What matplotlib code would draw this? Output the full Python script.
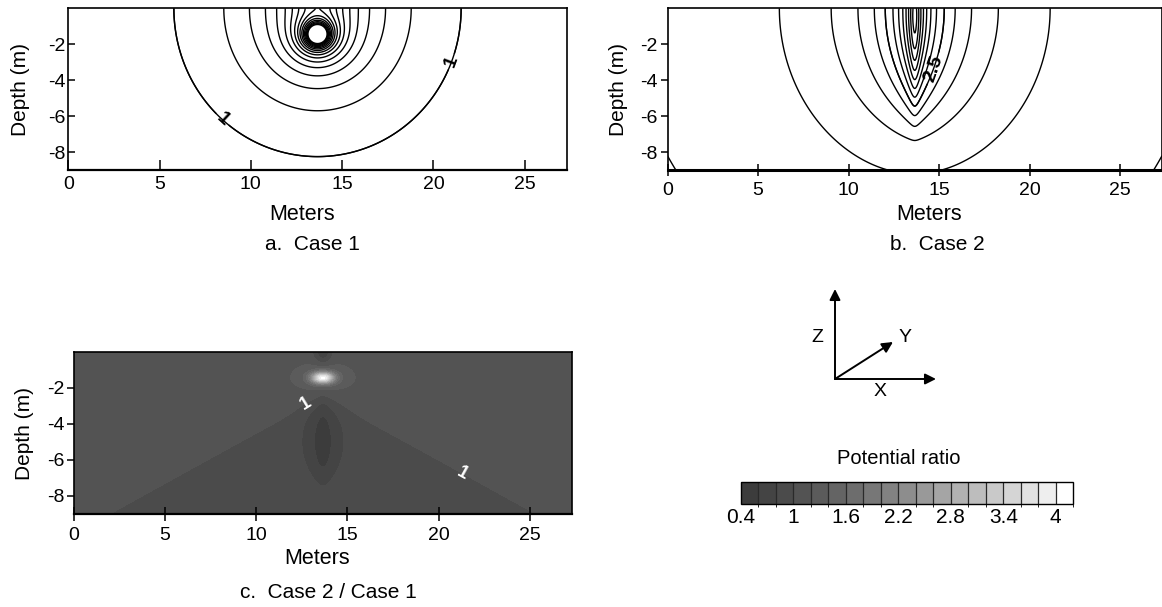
import numpy as np
import matplotlib
matplotlib.use("Agg")
import matplotlib.pyplot as plt
from matplotlib.colors import ListedColormap, BoundaryNorm

plt.rcParams['font.family'] = ['Liberation Sans', 'DejaVu Sans']
plt.rcParams['axes.unicode_minus'] = False

W, H = 1162, 607

# section geometry (m)
x_extent = (0.0, 27.3)
depth_extent = (-9.0, 0.0)
x_ticks = [0, 5, 10, 15, 20, 25]
depth_ticks = [-8, -6, -4, -2]

# current electrode
source_x = 13.65
source_depth = 1.45
case1_strength = 4.0

# case 2: current leaking along a vertical conductor below the electrode
line_top = 0.05
line_bottom = 8.0
line_taper = 2.0
line_radius = 0.2
case2_strength = 4.0
case2_reference = 0.5

levels_case1 = np.arange(1.0, 9.01, 0.5)
levels_case2 = np.arange(0.0, 8.01, 0.5)

# ratio classes for the case 2 / case 1 map
ratio_bounds = np.round(np.arange(0.4, 4.21, 0.2), 1)
ratio_ticks = [0.4, 1, 1.6, 2.2, 2.8, 3.4, 4]
ratio_tick_labels = ['0.4', '1', '1.6', '2.2', '2.8', '3.4', '4']
ratio_grays = [0.235, 0.267, 0.294, 0.325, 0.357, 0.392, 0.427, 0.467,
               0.510, 0.553, 0.600, 0.647, 0.694, 0.741, 0.788, 0.835,
               0.882, 0.933, 1.000]

# ratio map features
wedge_apex_depth = 2.45
wedge_slope = 0.56
ratio_above, ratio_below = 1.1, 0.9
plume_center_depth = 4.9
plume_amp, plume_wx, plume_wz = 0.25, 1.25, 2.3
core_center_depth = 5.0
core_amp, core_wx, core_wz = 0.30, 0.42, 1.6
peak_amp, peak_wx, peak_wz = 2.0, 0.6, 0.3
halo_amp, halo_wx, halo_wz = 1.0, 0.6, 0.3
notch_amp, notch_wx, notch_wz = 0.5, 0.5, 0.65

# contour-label anchor points (m)
labels_case1 = [(8.43, -6.2), (20.97, -2.97)]
labels_case2 = [(15.1, -3.5)]
labels_ratio = [(12.66, -2.76), (21.5, -6.42)]

x = np.linspace(*x_extent, 700)
z = np.linspace(*depth_extent, 260)
X, Z = np.meshgrid(x, z)


def point_potential(X, Z, xs, ds, q, soft=0.0):
    r = np.sqrt((X - xs) ** 2 + (Z + ds) ** 2 + soft ** 2)
    ri = np.sqrt((X - xs) ** 2 + (Z - ds) ** 2 + soft ** 2)
    return q * (1.0 / np.maximum(r, 1e-3) + 1.0 / ri)


V1 = point_potential(X, Z, source_x, source_depth, case1_strength)

depths = np.linspace(line_top, line_bottom, 120)
weights = np.clip(1.0 - (depths / line_bottom) ** 2, 0, None) ** line_taper
weights = weights / weights.sum() * case2_strength
V2 = -case2_reference * np.ones_like(X)
for d, w in zip(depths, weights):
    V2 += point_potential(X, Z, source_x, d, w, soft=line_radius)

dx = X - source_x
dzs = Z + source_depth
wedge = -Z - wedge_apex_depth - wedge_slope * np.abs(dx)
R = 0.5 * (ratio_above + ratio_below) - 0.5 * (ratio_above - ratio_below) * np.tanh(wedge / 0.4)
R -= plume_amp * np.exp(-(dx / plume_wx) ** 2 - ((Z + plume_center_depth) / plume_wz) ** 2)
R -= core_amp * np.exp(-(dx / core_wx) ** 2 - ((Z + core_center_depth) / core_wz) ** 2)
R += peak_amp * np.exp(-(dx / peak_wx) ** 2 - (dzs / peak_wz) ** 2)
R += halo_amp / (1.0 + (dx / halo_wx) ** 2 + (dzs / halo_wz) ** 2)
R -= notch_amp * np.exp(-(dx / notch_wx) ** 2 - (Z / notch_wz) ** 2)
R = np.clip(R, ratio_bounds[0] + 0.01, ratio_bounds[-1] - 0.01)

fig = plt.figure(figsize=(W / 100, H / 100), dpi=100)


def frac(left, top, right, bottom):
    return [left / W, 1 - bottom / H, (right - left) / W, (bottom - top) / H]


def style_axes(ax, xdir, ydir, xlen):
    ax.set_xlim(*x_extent)
    ax.set_ylim(*depth_extent)
    ax.set_xticks(x_ticks)
    ax.set_yticks(depth_ticks)
    ax.tick_params(axis='x', direction=xdir, length=xlen, width=1.1,
                   labelsize=14, pad=4, colors='black')
    ax.tick_params(axis='y', direction=ydir, length=5, width=1.1,
                   labelsize=14, pad=2)
    for s in ax.spines.values():
        s.set_linewidth(1.2)
    ax.spines['bottom'].set_linewidth(1.6)


ax_a = fig.add_axes(frac(68.3, 8.3, 566.7, 170))
ax_a.contour(X, Z, V1, levels=levels_case1, colors='black', linewidths=1.0)
cs_a = ax_a.contour(X, Z, V1, levels=[1.0], colors='black', linewidths=1.0)
ta = ax_a.clabel(cs_a, manual=labels_case1, inline=True, fmt='%g', fontsize=14, inline_spacing=3)
for t in ta:
    t.set_fontweight('bold')
style_axes(ax_a, 'in', 'in', 7)

ax_b = fig.add_axes(frac(667.5, 8.3, 1162, 170))
ax_b.contour(X, Z, V2, levels=levels_case2, colors='black', linewidths=1.0)
cs_b = ax_b.contour(X, Z, V2, levels=[2.5], colors='black', linewidths=1.0)
tb = ax_b.clabel(cs_b, manual=labels_case2, inline=True, fmt='%g', fontsize=14, inline_spacing=3)
for t in tb:
    t.set_fontweight('bold')
style_axes(ax_b, 'inout', 'out', 9)
ax_b.spines['bottom'].set_linewidth(2.2)

cmap = ListedColormap([(g, g, g) for g in ratio_grays])
norm = BoundaryNorm(ratio_bounds, cmap.N)
ax_c = fig.add_axes(frac(74, 351.6, 571.7, 514))
cf = ax_c.contourf(X, Z, R, levels=ratio_bounds, cmap=cmap, norm=norm)
cs_c = ax_c.contour(X, Z, R, levels=[1.0], colors='none', linewidths=0)
tc = ax_c.clabel(cs_c, manual=labels_ratio, inline=False, fmt='%g', fontsize=13, colors='white')
for t in tc:
    t.set_fontweight('bold')
style_axes(ax_c, 'inout', 'out', 10)

# axis titles and captions
txt = dict(fontsize=15, color='black')
for xp, yp in [(21, 89), (618, 89), (25, 433)]:
    fig.text(xp / W, 1 - yp / H, 'Depth (m)', rotation=90, ha='center', va='center', **txt)
for xp, yp in [(302, 215), (929, 215), (317, 558)]:
    fig.text(xp / W, 1 - yp / H, 'Meters', ha='center', va='center', fontsize=15.5)
fig.text(312 / W, 1 - 245 / H, 'a.  Case 1', ha='center', va='center', **txt)
fig.text(937 / W, 1 - 244 / H, 'b.  Case 2', ha='center', va='center', **txt)
fig.text(240 / W, 1 - 592 / H, 'c.  Case 2 / Case 1', ha='left', va='center', **txt)

# coordinate system sketch
ov = fig.add_axes([0, 0, 1, 1])
ov.set_xlim(0, W)
ov.set_ylim(H, 0)
ov.axis('off')
origin = (835, 379)
arrow = dict(arrowstyle='-|>', lw=1.4, color='black', mutation_scale=16, shrinkA=0, shrinkB=0)
for tip in [(835, 289), (936, 379), (893, 342)]:
    ov.annotate('', xy=tip, xytext=origin, arrowprops=arrow)
ov.text(817, 338, 'Z', fontsize=14, ha='center', va='center')
ov.text(905, 338, 'Y', fontsize=14, ha='center', va='center')
ov.text(880, 392, 'X', fontsize=14, ha='center', va='center')
ov.text(899, 458, 'Potential ratio', fontsize=14.5, ha='center', va='center')

cax = fig.add_axes(frac(740.7, 482.3, 1073.3, 504))
cb = fig.colorbar(cf, cax=cax, orientation='horizontal', ticks=ratio_ticks, drawedges=True)
cb.set_ticklabels(ratio_tick_labels)
cb.ax.tick_params(length=0, labelsize=15, pad=3)
cb.dividers.set_color('#2a2a2a')
cb.dividers.set_linewidth(0.9)
cb.outline.set_linewidth(1.0)

fig.savefig('out.png', dpi=100)
